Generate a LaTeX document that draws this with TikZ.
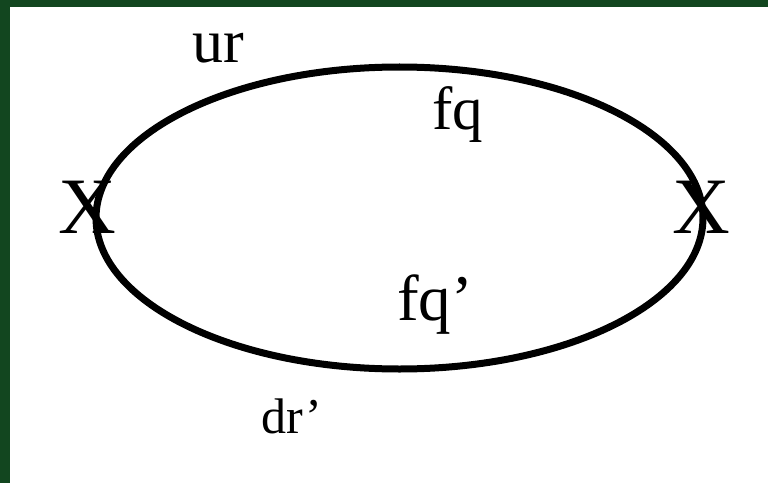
\documentclass[tikz,border=0pt]{standalone}
\usepackage{fontspec}
\setmainfont{Liberation Serif}
\usepackage{xcolor}
\usepackage{tikz}
\usetikzlibrary{positioning,calc}
\tikzset{
  lbl/.style={inner sep=0pt, anchor=base, font=\fontsize{#1}{#1}\selectfont},
  lbl/.default=62,
  loopline/.style={line width=7pt, draw=black},
}
\definecolor{slide}{HTML}{12461F}

\begin{document}
\begin{tikzpicture}[x=1pt, y=1pt]
  \useasboundingbox (0,0) rectangle (768,483);
  \fill[slide] (0,0) rectangle (768,483);
  \fill[white] (10,0) rectangle (768,476);

  \coordinate (L) at (96,265);
  \coordinate (R) at (703,265);
  \draw[loopline] (L) arc[start angle=180, end angle=0, x radius=303.5, y radius=151];
  \draw[loopline] (L) arc[start angle=180, end angle=360, x radius=303.5, y radius=151];

  \node[lbl=80] (xl) at (87.5,250) {X};
  \node[lbl=80] (xr) at (701,250) {X};
  \node[lbl=62] (ur) at (218,420) {ur};
  \node[lbl=61] (fq) at (458,354) {fq};
  \node[lbl=65] (fqp) at (435,163) {fq'};
  \node[lbl=50] (drp) at (292,50) {dr'};
\end{tikzpicture}
\end{document}
